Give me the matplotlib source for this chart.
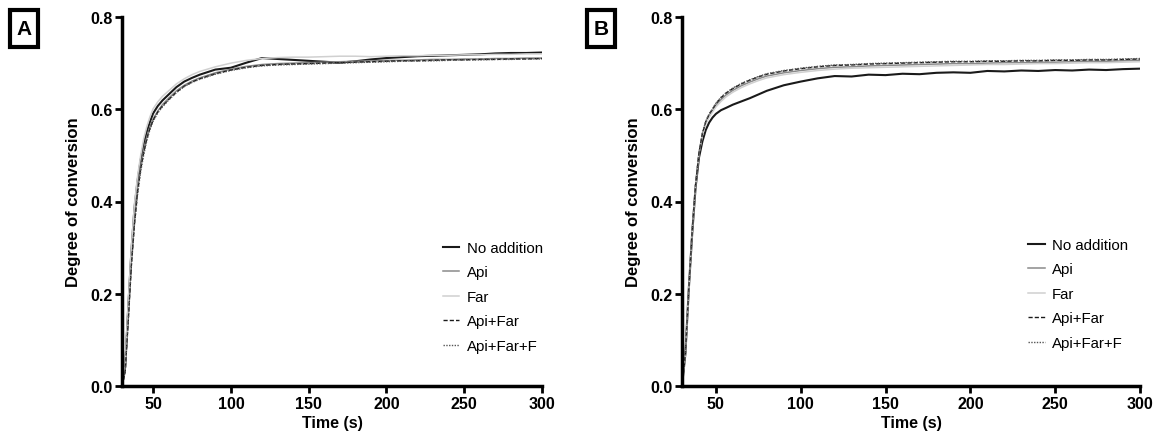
import matplotlib
matplotlib.use("Agg")
import matplotlib.pyplot as plt
from matplotlib.patches import Rectangle

plt.rcParams['font.family'] = ['Liberation Sans', 'DejaVu Sans']

time_s = [30, 32, 34, 36, 38, 40, 42, 44, 46, 48, 50, 53, 56, 60, 65, 70, 75, 80, 90, 100,
          110, 120, 130, 140, 150, 160, 170, 180, 190, 200, 210, 220, 230, 240, 250, 260,
          270, 280, 290, 300]

series_names = ["No addition", "Api", "Far", "Api+Far", "Api+Far+F"]

# Panel A
a_no_addition = [0.0, 0.04, 0.17, 0.29, 0.385, 0.445, 0.49, 0.525, 0.552, 0.573, 0.591, 0.607,
                 0.619, 0.632, 0.648, 0.660, 0.668, 0.675, 0.686, 0.690, 0.701, 0.711, 0.709,
                 0.707, 0.705, 0.703, 0.701, 0.704, 0.708, 0.711, 0.713, 0.715, 0.716, 0.717,
                 0.718, 0.719, 0.721, 0.722, 0.722, 0.723]
a_api = [0.0, 0.035, 0.15, 0.27, 0.36, 0.43, 0.475, 0.512, 0.540, 0.562, 0.579, 0.596,
         0.610, 0.624, 0.640, 0.652, 0.661, 0.668, 0.679, 0.687, 0.693, 0.697, 0.699,
         0.700, 0.701, 0.702, 0.703, 0.704, 0.705, 0.706, 0.706, 0.707, 0.708, 0.708,
         0.709, 0.709, 0.710, 0.710, 0.711, 0.711]
a_far = [0.0, 0.045, 0.18, 0.30, 0.395, 0.455, 0.50, 0.537, 0.563, 0.584, 0.601, 0.616,
         0.628, 0.640, 0.655, 0.666, 0.675, 0.682, 0.692, 0.700, 0.706, 0.710, 0.712,
         0.713, 0.713, 0.714, 0.715, 0.715, 0.714, 0.715, 0.716, 0.716, 0.717, 0.717,
         0.718, 0.718, 0.719, 0.719, 0.720, 0.720]
a_api_far = [0.0, 0.03, 0.14, 0.26, 0.35, 0.42, 0.47, 0.507, 0.536, 0.559, 0.576, 0.594,
             0.607, 0.621, 0.637, 0.650, 0.659, 0.666, 0.677, 0.685, 0.691, 0.695, 0.697,
             0.698, 0.699, 0.700, 0.701, 0.702, 0.703, 0.704, 0.705, 0.705, 0.706, 0.707,
             0.707, 0.708, 0.708, 0.709, 0.709, 0.710]
a_api_far_f = [0.0, 0.03, 0.14, 0.26, 0.35, 0.415, 0.465, 0.502, 0.533, 0.556, 0.574, 0.592,
               0.605, 0.620, 0.636, 0.649, 0.658, 0.665, 0.676, 0.684, 0.690, 0.694, 0.696,
               0.697, 0.698, 0.699, 0.700, 0.701, 0.702, 0.703, 0.704, 0.705, 0.705, 0.706,
               0.707, 0.707, 0.708, 0.708, 0.709, 0.709]

# Panel B
b_no_addition = [0.0, 0.07, 0.21, 0.33, 0.43, 0.495, 0.53, 0.555, 0.571, 0.582, 0.590, 0.598,
                 0.603, 0.610, 0.617, 0.624, 0.632, 0.640, 0.652, 0.660, 0.667, 0.672, 0.671,
                 0.675, 0.674, 0.677, 0.676, 0.679, 0.680, 0.679, 0.683, 0.682, 0.684, 0.683,
                 0.685, 0.684, 0.686, 0.685, 0.687, 0.688]
b_api = [0.0, 0.07, 0.21, 0.335, 0.435, 0.505, 0.545, 0.570, 0.586, 0.597, 0.608, 0.621,
         0.631, 0.641, 0.651, 0.659, 0.666, 0.672, 0.679, 0.684, 0.688, 0.691, 0.692,
         0.694, 0.695, 0.696, 0.697, 0.698, 0.699, 0.699, 0.700, 0.701, 0.701, 0.702,
         0.702, 0.703, 0.704, 0.704, 0.705, 0.706]
b_far = [0.0, 0.07, 0.21, 0.335, 0.435, 0.505, 0.543, 0.568, 0.583, 0.594, 0.605, 0.617,
         0.627, 0.637, 0.647, 0.655, 0.662, 0.668, 0.675, 0.680, 0.684, 0.687, 0.689,
         0.690, 0.691, 0.692, 0.693, 0.694, 0.695, 0.696, 0.697, 0.697, 0.698, 0.699,
         0.699, 0.700, 0.701, 0.701, 0.702, 0.703]
b_api_far = [0.0, 0.07, 0.21, 0.335, 0.435, 0.505, 0.547, 0.573, 0.589, 0.600, 0.612, 0.625,
             0.635, 0.645, 0.655, 0.663, 0.670, 0.676, 0.683, 0.688, 0.692, 0.695, 0.696,
             0.698, 0.699, 0.700, 0.701, 0.702, 0.703, 0.703, 0.704, 0.704, 0.705, 0.705,
             0.706, 0.706, 0.707, 0.707, 0.708, 0.709]
b_api_far_f = [0.0, 0.07, 0.21, 0.335, 0.435, 0.505, 0.548, 0.574, 0.590, 0.601, 0.613, 0.626,
               0.636, 0.646, 0.656, 0.664, 0.671, 0.677, 0.684, 0.689, 0.693, 0.696, 0.697,
               0.699, 0.700, 0.701, 0.702, 0.703, 0.704, 0.704, 0.705, 0.705, 0.706, 0.706,
               0.707, 0.707, 0.708, 0.708, 0.709, 0.710]

x_ticks = [50, 100, 150, 200, 250, 300]
y_ticks = [0.0, 0.2, 0.4, 0.6, 0.8]
y_tick_labels = ["0.0", "0.2", "0.4", "0.6", "0.8"]

styles = [
    dict(color="#1a1a1a", lw=1.5, ls="-"),
    dict(color="#8a8a8a", lw=1.1, ls="-"),
    dict(color="#d0d0d0", lw=1.1, ls="-"),
    dict(color="#1a1a1a", lw=1.0, ls=(0, (3, 1.5))),
    dict(color="#555555", lw=1.0, ls=(0, (1, 1))),
]

W, H = 1162, 435
fig = plt.figure(figsize=(W / 100, H / 100), dpi=100)


def make_panel(rect, data, letter, box_px, legend_px, ylabel_x):
    ax = fig.add_axes(rect)
    for vals, name, st in zip(data, series_names, styles):
        ax.plot(time_s, vals, label=name, **st)
    ax.set_xlim(30, 300)
    ax.set_ylim(0, 0.8)
    ax.set_xticks(x_ticks)
    ax.set_yticks(y_ticks)
    ax.set_yticklabels(y_tick_labels)
    for s in ["top", "right"]:
        ax.spines[s].set_visible(False)
    for s in ["left", "bottom"]:
        ax.spines[s].set_linewidth(2.5)
    ax.tick_params(direction="out", length=5, width=2, labelsize=11.5, pad=2)
    for lab in ax.get_xticklabels() + ax.get_yticklabels():
        lab.set_fontweight("bold")
    ax.set_xlabel("Time (s)", fontsize=11.5, fontweight="bold", labelpad=3)
    ax.set_ylabel("Degree of conversion", fontsize=12, fontweight="bold")
    ax.yaxis.set_label_coords(ylabel_x, 0.5)
    ax.legend(loc="upper left", bbox_to_anchor=(legend_px[0] / W, 1 - legend_px[1] / H),
              bbox_transform=fig.transFigure, frameon=False, fontsize=10.8,
              handlelength=1.1, handletextpad=0.5, labelspacing=0.7,
              borderpad=0, borderaxespad=0)
    x0, y0, x1, y1 = box_px
    fig.patches.append(Rectangle((x0 / W, 1 - y1 / H), (x1 - x0) / W, (y1 - y0) / H,
                                 transform=fig.transFigure, fill=False, lw=3, ec="black"))
    fig.text((x0 + x1) / 2 / W, 1 - (y0 + y1) / 2 / H, letter, ha="center", va="center",
             fontsize=15, fontweight="bold")
    return ax


make_panel([122 / W, 1 - 387 / H, 420 / W, 369 / H],
           [a_no_addition, a_api, a_far, a_api_far, a_api_far_f],
           "A", (10, 11, 38, 48), (443, 242), -0.097)
make_panel([682 / W, 1 - 387 / H, 458 / W, 369 / H],
           [b_no_addition, b_api, b_far, b_api_far, b_api_far_f],
           "B", (587, 11, 615, 48), (1028, 239), -0.090)

fig.savefig("out.png", dpi=100)
